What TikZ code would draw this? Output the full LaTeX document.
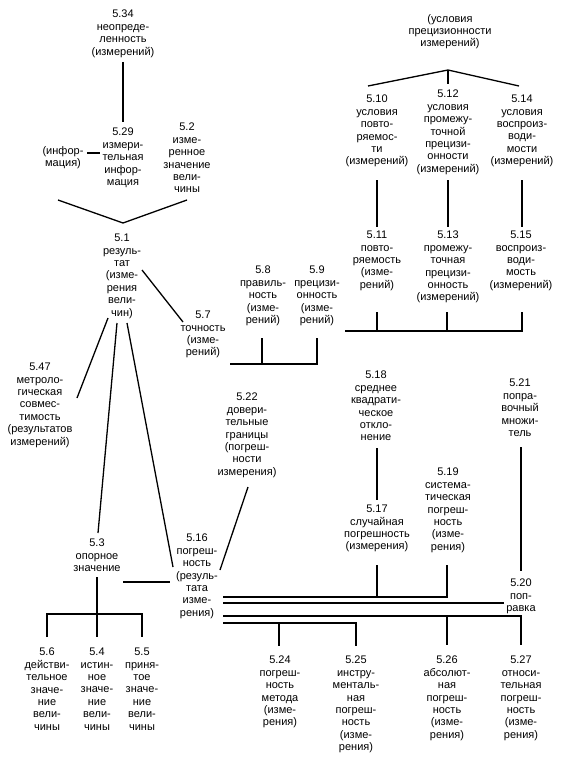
\documentclass[tikz,border=0pt]{standalone}
\usepackage{fontspec}
\setmainfont{Liberation Sans}
\begin{document}
\begin{tikzpicture}[x=1pt,y=-1pt,
  lbl/.style={align=center, inner sep=0pt, anchor=north, font=\fontsize{11}{12.4}\selectfont},
  ln/.style={line width=1.3pt}]
\useasboundingbox[fill=white] (0,0) rectangle (574,765);
% nodes
\node[lbl] (n534) at (123,10) {5.34\\неопреде-\\ленность\\(измерений)};
\node[lbl] (nusl) at (450,14) {(условия\\прецизионности\\измерений)};
\node[lbl] (n529) at (123,128) {5.29\\измери-\\тельная\\инфор-\\мация};
\node[lbl] (ninf) at (63,146) {(инфор-\\мация)};
\node[lbl] (n52) at (187,123) {5.2\\изме-\\ренное\\значение\\вели-\\чины};
\node[lbl] (n51) at (122,234) {5.1\\резуль-\\тат\\(изме-\\рения\\вели-\\чин)};
\node[lbl] (n510) at (377,95) {5.10\\условия\\повто-\\ряемос-\\ти\\(измерений)};
\node[lbl] (n512) at (448,90) {5.12\\условия\\промежу-\\точной\\прецизи-\\онности\\(измерений)};
\node[lbl] (n514) at (522,95) {5.14\\условия\\воспроиз-\\води-\\мости\\(измерений)};
\node[lbl] (n511) at (377,231) {5.11\\повто-\\ряемость\\(изме-\\рений)};
\node[lbl] (n513) at (448,231) {5.13\\промежу-\\точная\\прецизи-\\онность\\(измерений)};
\node[lbl] (n515) at (521,231) {5.15\\воспроиз-\\води-\\мость\\(измерений)};
\node[lbl] (n58) at (263,266) {5.8\\правиль-\\ность\\(изме-\\рений)};
\node[lbl] (n59) at (317,266) {5.9\\прецизи-\\онность\\(изме-\\рений)};
\node[lbl] (n57) at (203,311) {5.7\\точность\\(изме-\\рений)};
\node[lbl] (n547) at (40,363) {5.47\\метроло-\\гическая\\совмес-\\тимость\\(результатов\\измерений)};
\node[lbl] (n522) at (247,393) {5.22\\довери-\\тельные\\границы\\(погреш-\\ности\\измерения)};
\node[lbl] (n518) at (376,371) {5.18\\среднее\\квадрати-\\ческое\\откло-\\нение};
\node[lbl] (n521) at (520,379) {5.21\\попра-\\вочный\\множи-\\тель};
\node[lbl] (n519) at (448,468) {5.19\\система-\\тическая\\погреш-\\ность\\(изме-\\рения)};
\node[lbl] (n517) at (377,505) {5.17\\случайная\\погрешность\\(измерения)};
\node[lbl] (n53) at (97,539) {5.3\\опорное\\значение};
\node[lbl] (n516) at (197,534) {5.16\\погреш-\\ность\\(резуль-\\тата\\изме-\\рения)};
\node[lbl] (n520) at (521,579) {5.20\\поп-\\равка};
\node[lbl] (n56) at (47,648) {5.6\\действи-\\тельное\\значе-\\ние\\вели-\\чины};
\node[lbl] (n54) at (97,648) {5.4\\истин-\\ное\\значе-\\ние\\вели-\\чины};
\node[lbl] (n55) at (142,648) {5.5\\приня-\\тое\\значе-\\ние\\вели-\\чины};
\node[lbl] (n524) at (280,656) {5.24\\погреш-\\ность\\метода\\(изме-\\рения)};
\node[lbl] (n525) at (356,656) {5.25\\инстру-\\менталь-\\ная\\погреш-\\ность\\(изме-\\рения)};
\node[lbl] (n526) at (447,656) {5.26\\абсолют-\\ная\\погреш-\\ность\\(изме-\\рения)};
\node[lbl] (n527) at (521,656) {5.27\\относи-\\тельная\\погреш-\\ность\\(изме-\\рения)};
% connector points
\coordinate (a534) at (123,62);  \coordinate (a529) at (123,122);
\coordinate (ainf) at (87,153);  \coordinate (b529) at (100,153);
\coordinate (ch1) at (58,200); \coordinate (ch0) at (123,223); \coordinate (ch2) at (187,200);
\coordinate (f0) at (448,70); \coordinate (f1) at (368,86); \coordinate (f2) at (448,84); \coordinate (f3) at (519,86);
\coordinate (v10) at (377,180); \coordinate (v11) at (377,227);
\coordinate (v12) at (448,180); \coordinate (v13) at (448,227);
\coordinate (v14) at (522,180); \coordinate (v15) at (522,227);
\coordinate (bl) at (345,331); \coordinate (br) at (522,331);
\coordinate (b11) at (377,312); \coordinate (b11b) at (377,331);
\coordinate (b13) at (447,312); \coordinate (b13b) at (447,331);
\coordinate (b15) at (522,312);
\coordinate (cl) at (230,364); \coordinate (cr) at (317,364);
\coordinate (c8) at (262,338); \coordinate (c8b) at (262,364);
\coordinate (c9) at (317,338);
\coordinate (r7a) at (142,270); \coordinate (r7b) at (183,322);
\coordinate (r47a) at (108,318); \coordinate (r47b) at (77,398);
\coordinate (r3a) at (117,323); \coordinate (r3b) at (98,533);
\coordinate (r16a) at (127,323); \coordinate (r16b) at (173,567);
\coordinate (r22a) at (248,487); \coordinate (r22b) at (220,570);
\coordinate (h3a) at (123,582); \coordinate (h3b) at (170,582);
\coordinate (d3a) at (97,577); \coordinate (d3b) at (97,637);
\coordinate (d6a) at (47,614); \coordinate (d6b) at (47,637);
\coordinate (d5a) at (142,614); \coordinate (d5b) at (142,637);
\coordinate (v18) at (377,448); \coordinate (v17) at (377,500);
\coordinate (v21) at (521,447); \coordinate (v20) at (521,571);
\coordinate (L1a) at (223,597); \coordinate (L1b) at (447,597);
\coordinate (L1c) at (377,565); \coordinate (L1d) at (377,597); \coordinate (L1e) at (447,565);
\coordinate (L2a) at (223,603); \coordinate (L2b) at (504,603);
\coordinate (L3a) at (223,616); \coordinate (L3b) at (521,616);
\coordinate (L3c) at (447,616); \coordinate (L3d) at (447,645); \coordinate (L3e) at (521,645);
\coordinate (L4a) at (223,623); \coordinate (L4b) at (356,623);
\coordinate (L4c) at (279,623); \coordinate (L4d) at (279,646); \coordinate (L4e) at (356,646);
% connectors
\draw[ln] (a534) -- (a529);
\draw[ln] (ainf) -- (b529);
\draw[ln] (ch1) -- (ch0) -- (ch2);
\draw[ln] (f1) -- (f0) -- (f3);
\draw[ln] (f0) -- (f2);
\draw[ln] (v10) -- (v11);
\draw[ln] (v12) -- (v13);
\draw[ln] (v14) -- (v15);
\draw[ln] (bl) -- (br) -- (b15);
\draw[ln] (b11) -- (b11b);
\draw[ln] (b13) -- (b13b);
\draw[ln] (cl) -- (cr) -- (c9);
\draw[ln] (c8) -- (c8b);
\draw[ln] (r7a) -- (r7b);
\draw[ln] (r47a) -- (r47b);
\draw[ln] (r3a) -- (r3b);
\draw[ln] (r16a) -- (r16b);
\draw[ln] (r22a) -- (r22b);
\draw[ln] (h3a) -- (h3b);
\draw[ln] (d3a) -- (d3b);
\draw[ln] (d6b) -- (d6a) -- (d5a) -- (d5b);
\draw[ln] (v18) -- (v17);
\draw[ln] (v21) -- (v20);
\draw[ln] (L1a) -- (L1b) -- (L1e);
\draw[ln] (L1c) -- (L1d);
\draw[ln] (L2a) -- (L2b);
\draw[ln] (L3a) -- (L3b) -- (L3e);
\draw[ln] (L3c) -- (L3d);
\draw[ln] (L4a) -- (L4b) -- (L4e);
\draw[ln] (L4c) -- (L4d);
\end{tikzpicture}
\end{document}
